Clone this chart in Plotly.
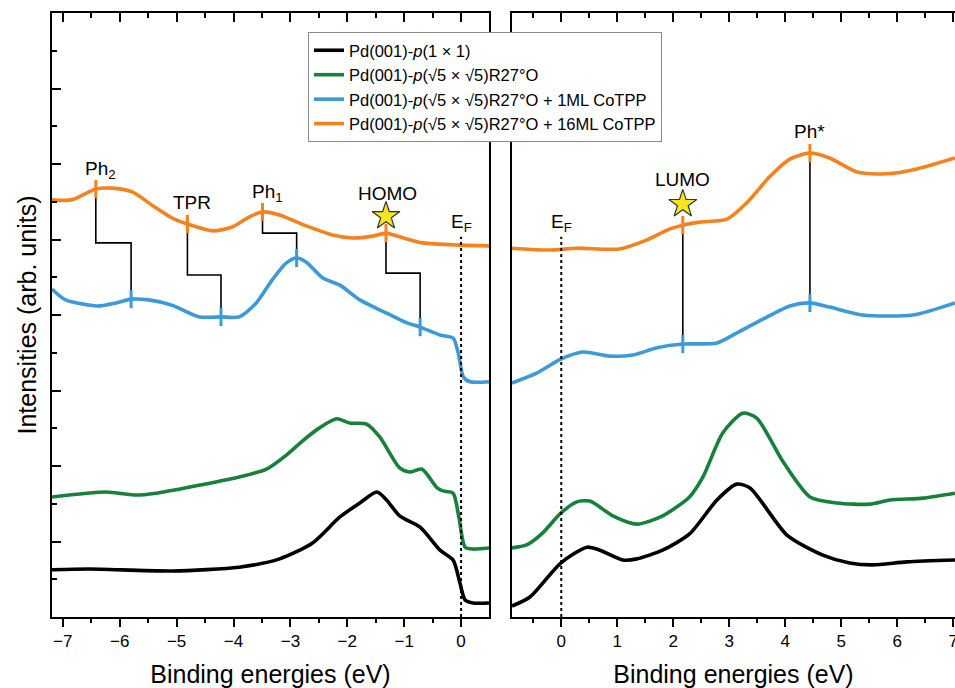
import plotly.graph_objects as go

# ---------------- data (binding energy in eV, intensity in arb. units) ----------------
names = [
    "Pd(001)-<i>p</i>(1 × 1)",
    "Pd(001)-<i>p</i>(√5 × √5)R27°O",
    "Pd(001)-<i>p</i>(√5 × √5)R27°O + 1ML CoTPP",
    "Pd(001)-<i>p</i>(√5 × √5)R27°O + 16ML CoTPP",
]
colors = ["#000000", "#17803a", "#3d9ad8", "#f5821f"]

# left panel (occupied states)
L_black_E = [-7.19, -6.54, -5.08, -3.90, -3.19, -2.61, -2.13, -1.78, -1.48, -1.31, -1.08, -0.72, -0.37, -0.14, -0.02, 0.07, 0.21, 0.49]
L_black_I = [1.25, 1.27, 1.22, 1.32, 1.54, 1.96, 2.65, 3.02, 3.31, 3.10, 2.68, 2.38, 1.77, 1.51, 0.90, 0.45, 0.37, 0.37]

L_green_E = [-7.19, -6.24, -5.71, -5.36, -4.78, -3.90, -3.42, -3.07, -2.79, -2.49, -2.19, -1.96, -1.66, -1.43, -1.08, -0.90, -0.69, -0.42, -0.32, -0.14, -0.04, 0.07, 0.21, 0.49]
L_green_I = [3.18, 3.31, 3.23, 3.28, 3.44, 3.71, 3.92, 4.29, 4.66, 5.01, 5.25, 5.14, 5.11, 4.77, 3.95, 3.84, 3.92, 3.42, 3.34, 3.28, 2.65, 1.85, 1.80, 1.83]

L_blue_E = [-7.19, -6.95, -6.40, -6.07, -5.80, -5.49, -5.08, -4.60, -4.22, -3.90, -3.60, -3.32, -3.07, -2.89, -2.72, -2.43, -2.13, -1.78, -1.31, -0.95, -0.72, -0.37, -0.14, -0.05, 0.04, 0.16, 0.49]
L_blue_I = [8.69, 8.40, 8.24, 8.32, 8.42, 8.40, 8.26, 7.95, 7.95, 7.95, 8.32, 8.93, 9.38, 9.51, 9.40, 8.98, 8.79, 8.40, 8.05, 7.79, 7.68, 7.47, 7.39, 6.99, 6.36, 6.23, 6.23]

L_orange_E = [-7.19, -6.84, -6.42, -6.14, -5.78, -5.43, -5.08, -4.81, -4.37, -4.02, -3.72, -3.49, -3.19, -2.72, -2.26, -1.90, -1.55, -1.32, -1.08, -0.67, -0.02, 0.49]
L_orange_I = [11.05, 11.05, 11.34, 11.36, 11.26, 10.91, 10.57, 10.41, 10.23, 10.33, 10.60, 10.73, 10.65, 10.36, 10.12, 10.04, 10.09, 10.17, 10.07, 9.91, 9.85, 9.83]

# right panel (unoccupied states)
R_black_E = [-0.88, -0.56, -0.01, 0.46, 0.69, 1.10, 1.35, 1.81, 2.29, 2.78, 3.13, 3.37, 4.03, 4.67, 5.15, 5.56, 6.17, 7.03]
R_black_I = [0.29, 0.53, 1.43, 1.85, 1.77, 1.51, 1.54, 1.77, 2.20, 3.10, 3.52, 3.42, 2.17, 1.64, 1.43, 1.38, 1.46, 1.51]

R_green_E = [-0.88, -0.62, -0.33, -0.01, 0.28, 0.51, 0.92, 1.35, 1.81, 2.29, 2.53, 2.88, 3.24, 3.49, 3.96, 4.44, 4.92, 5.51, 5.87, 6.46, 7.03]
R_green_I = [1.83, 1.91, 2.23, 2.75, 3.05, 3.07, 2.68, 2.46, 2.68, 3.18, 3.71, 4.87, 5.40, 5.27, 4.11, 3.18, 3.02, 2.99, 3.10, 3.15, 3.28]

R_blue_E = [-0.88, -0.44, -0.01, 0.38, 0.87, 1.28, 1.71, 2.17, 2.78, 3.13, 3.60, 4.08, 4.44, 4.79, 5.38, 6.28, 7.03]
R_blue_I = [6.20, 6.46, 6.83, 7.02, 6.91, 6.94, 7.13, 7.23, 7.26, 7.52, 7.89, 8.24, 8.32, 8.21, 8.00, 8.00, 8.32]

R_orange_E = [-0.88, -0.21, 0.28, 1.04, 1.53, 1.94, 2.17, 2.47, 2.96, 3.31, 3.72, 4.08, 4.44, 4.79, 5.28, 5.81, 6.35, 7.03]
R_orange_I = [9.77, 9.72, 9.77, 9.75, 9.99, 10.28, 10.38, 10.46, 10.54, 10.97, 11.66, 12.13, 12.29, 12.16, 11.79, 11.74, 11.87, 12.16]

# peak assignments, left panel: orange (16ML) peak -> blue (1ML) peak
L_peak_labels = ["Ph<sub>2</sub>", "TPR", "Ph<sub>1</sub>", "HOMO"]
L_peak_E16 = [-6.42, -4.81, -3.49, -1.32]
L_peak_I16 = [11.34, 10.41, 10.73, 10.17]
L_peak_E1 = [-5.80, -4.22, -2.89, -0.72]
L_peak_I1 = [8.42, 7.95, 9.51, 7.68]
L_step_I = [9.91, 9.06, 10.17, 9.11]
L_label_E = [-6.33, -4.73, -3.40, -1.29]
L_label_I = [11.84, 10.97, 11.23, 11.23]

# right panel
R_peak_labels = ["LUMO", "Ph*"]
R_peak_E = [2.17, 4.44]
R_peak_I16 = [10.38, 12.29]
R_peak_I1 = [7.23, 8.32]
R_label_I = [11.58, 12.85]

star_E = [-1.32, 2.17]
star_I = [10.62, 10.94]
EF_line_top = 10.07
EF_label_I = 10.45

FONT = "Liberation Sans, Arial, sans-serif"

fig = go.Figure()

L_curves = [(L_black_E, L_black_I), (L_green_E, L_green_I), (L_blue_E, L_blue_I), (L_orange_E, L_orange_I)]
R_curves = [(R_black_E, R_black_I), (R_green_E, R_green_I), (R_blue_E, R_blue_I), (R_orange_E, R_orange_I)]

for i in range(4):
    fig.add_trace(go.Scatter(x=L_curves[i][0], y=L_curves[i][1], mode="lines",
                             line=dict(color=colors[i], width=3.6, shape="spline", smoothing=0.7),
                             name=names[i], legendgroup=str(i), xaxis="x", yaxis="y"))
    fig.add_trace(go.Scatter(x=R_curves[i][0], y=R_curves[i][1], mode="lines",
                             line=dict(color=colors[i], width=3.6, shape="spline", smoothing=0.7),
                             name=names[i], legendgroup=str(i), showlegend=False, xaxis="x2", yaxis="y2"))

# E_F dotted lines
fig.add_trace(go.Scatter(x=[0, 0], y=[0, EF_line_top], mode="lines",
                         line=dict(color="black", width=2, dash="dot"), showlegend=False, xaxis="x", yaxis="y"))
fig.add_trace(go.Scatter(x=[0, 0], y=[0, EF_line_top], mode="lines",
                         line=dict(color="black", width=2, dash="dot"), showlegend=False, xaxis="x2", yaxis="y2"))

# connectors left
for k in range(len(L_peak_E16)):
    fig.add_trace(go.Scatter(
        x=[L_peak_E16[k], L_peak_E16[k], L_peak_E1[k], L_peak_E1[k]],
        y=[L_peak_I16[k], L_step_I[k], L_step_I[k], L_peak_I1[k]],
        mode="lines", line=dict(color="black", width=1.6), showlegend=False, xaxis="x", yaxis="y"))
# connectors right
for k in range(len(R_peak_E)):
    fig.add_trace(go.Scatter(
        x=[R_peak_E[k], R_peak_E[k]], y=[R_peak_I16[k], R_peak_I1[k]],
        mode="lines", line=dict(color="black", width=1.6), showlegend=False, xaxis="x2", yaxis="y2"))

# tick marks on curves
def ticks(xs, ys, col, xa, ya):
    fig.add_trace(go.Scatter(x=xs, y=ys, mode="markers",
                             marker=dict(symbol="line-ns", size=13, line=dict(color=col, width=3)),
                             showlegend=False, xaxis=xa, yaxis=ya))

ticks(L_peak_E16, L_peak_I16, colors[3], "x", "y")
ticks(L_peak_E1, L_peak_I1, colors[2], "x", "y")
ticks(R_peak_E, R_peak_I16, colors[3], "x2", "y2")
ticks(R_peak_E, R_peak_I1, colors[2], "x2", "y2")

# stars
fig.add_trace(go.Scatter(x=[star_E[0]], y=[star_I[0]], mode="markers",
                         marker=dict(symbol="star", size=21, color="#f7e51e", line=dict(color="#333333", width=1.2)),
                         showlegend=False, xaxis="x", yaxis="y"))
fig.add_trace(go.Scatter(x=[star_E[1]], y=[star_I[1]], mode="markers",
                         marker=dict(symbol="star", size=21, color="#f7e51e", line=dict(color="#333333", width=1.2)),
                         showlegend=False, xaxis="x2", yaxis="y2"))

# invisible traces to keep top tick axes alive
fig.add_trace(go.Scatter(x=[-7], y=[0], mode="markers", marker=dict(opacity=0), showlegend=False,
                         hoverinfo="skip", xaxis="x3", yaxis="y"))
fig.add_trace(go.Scatter(x=[1], y=[0], mode="markers", marker=dict(opacity=0), showlegend=False,
                         hoverinfo="skip", xaxis="x4", yaxis="y2"))

LBL = 19
ann = []
for k in range(len(L_peak_labels)):
    ann.append(dict(x=L_label_E[k], y=L_label_I[k], xref="x", yref="y", text=L_peak_labels[k],
                    showarrow=False, font=dict(size=LBL, color="black", family=FONT)))
for k in range(len(R_peak_labels)):
    ann.append(dict(x=R_peak_E[k], y=R_label_I[k], xref="x2", yref="y2", text=R_peak_labels[k],
                    showarrow=False, font=dict(size=LBL, color="black", family=FONT)))
ann.append(dict(x=0, y=EF_label_I, xref="x", yref="y", text="E<sub>F</sub>", showarrow=False,
                font=dict(size=LBL, color="black", family=FONT)))
ann.append(dict(x=0, y=EF_label_I, xref="x2", yref="y2", text="E<sub>F</sub>", showarrow=False,
                font=dict(size=LBL, color="black", family=FONT)))

L_range = [-7.19, 0.49]
R_range = [-0.88, 7.03]
axcommon = dict(showgrid=False, zeroline=False, linecolor="black", linewidth=1.5,
                tickcolor="black", tickwidth=1.5, automargin=False)
TITLE = 25

fig.update_layout(
    width=955, height=688,
    margin=dict(l=52, r=0, t=13, b=71),
    plot_bgcolor="white", paper_bgcolor="white",
    font=dict(family=FONT, color="black"),
    annotations=ann,
    legend=dict(x=0.2835, y=0.9685, xanchor="left", yanchor="top",
                bgcolor="white", bordercolor="#8a8a8a", borderwidth=1,
                font=dict(size=16.5, family=FONT), tracegroupgap=0),
    xaxis=dict(domain=[0, 0.4839], range=L_range, anchor="y", dtick=1, tick0=0,
               ticks="outside", ticklen=8, showline=True, mirror=True,
               minor=dict(dtick=0.5, ticks="outside", ticklen=4, tickcolor="black", tickwidth=1.5),
               tickfont=dict(size=17), ticklabeloverflow="allow",
               title=dict(text="Binding energies (eV)", font=dict(size=TITLE), standoff=20), **axcommon),
    xaxis3=dict(range=L_range, overlaying="x", anchor="y", side="top", dtick=1, tick0=0,
                ticks="inside", ticklen=9, showticklabels=False, showline=False,
                minor=dict(dtick=0.5, ticks="inside", ticklen=5, tickcolor="black", tickwidth=1.5),
                **axcommon),
    yaxis=dict(domain=[0, 1], range=[0, 16], anchor="x", dtick=2, tick0=0,
               ticks="inside", ticklen=9, showticklabels=False, showline=True, mirror=True,
               minor=dict(dtick=1, ticks="inside", ticklen=5, tickcolor="black", tickwidth=1.5),
               title=dict(text="Intensities (arb. units)", font=dict(size=TITLE), standoff=7), **axcommon),
    xaxis2=dict(domain=[0.5094, 1], range=R_range, anchor="y2", dtick=1, tick0=0,
                ticks="outside", ticklen=8, showline=True,
                minor=dict(dtick=0.5, ticks="outside", ticklen=4, tickcolor="black", tickwidth=1.5),
                tickfont=dict(size=17), ticklabeloverflow="allow",
                title=dict(text="Binding energies (eV)", font=dict(size=TITLE), standoff=20), **axcommon),
    xaxis4=dict(range=R_range, overlaying="x2", anchor="y2", side="top", dtick=1, tick0=0,
                ticks="inside", ticklen=9, showticklabels=False, showline=True,
                minor=dict(dtick=0.5, ticks="inside", ticklen=5, tickcolor="black", tickwidth=1.5),
                **axcommon),
    yaxis2=dict(domain=[0, 1], range=[0, 16], anchor="x2", showticklabels=False, ticks="",
                showline=True, **axcommon),
)

fig.write_html("out.html", config={"displayModeBar": False},
               post_script="document.body.style.margin='0';document.body.style.overflow='hidden';")
